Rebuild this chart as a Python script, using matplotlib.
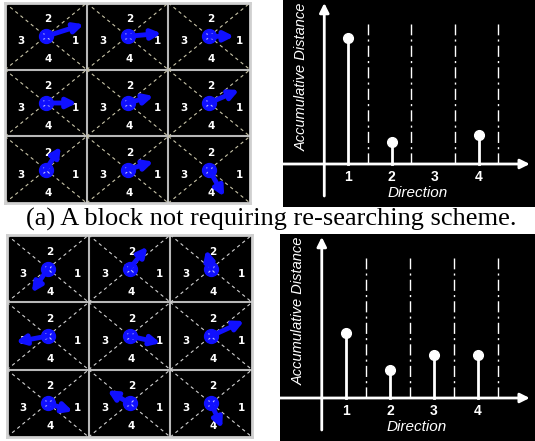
import numpy as np
import matplotlib.pyplot as plt
from matplotlib.patches import Rectangle

W, H = 535, 441

# motion vectors of the 9 sub-blocks (dx, dy in pixels, dy up), row by row
vec_a_dx = [38, 34, 25, 31, 26, 30, 15, 26, 15]
vec_a_dy = [12, 3, 0, 0, 7, 13, 23, 8, -27]
vec_b_dx = [-16, 18, -5, -32, 31, 33, 25, -22, 11]
vec_b_dy = [-24, 22, 19, -6, -7, 15, -8, 13, -25]

# accumulative distance per direction
directions = [1, 2, 3, 4]
dist_a = [126, 22, 0, 29]
dist_b = [65, 28, 43, 43]

caption_a = '(a) A block not requiring re-searching scheme.'


def px_axes(fig, x0, y0, x1, y1):
    return fig.add_axes([x0 / W, 1 - y1 / H, (x1 - x0) / W, (y1 - y0) / H])


def draw_grid(ax, vdx, vdy, diag_color):
    w = ax.get_position().width * W
    h = ax.get_position().height * H
    ax.set_xlim(0, w)
    ax.set_ylim(h, 0)
    ax.set_facecolor('black')
    ax.set_xticks([])
    ax.set_yticks([])
    for s in ax.spines.values():
        s.set_color('#d0d0d0')
        s.set_linewidth(2)
    cw, ch = w / 3, h / 3
    for k in range(1, 3):
        ax.plot([k * cw, k * cw], [0, h], color='#b8b8b8', lw=1.5)
        ax.plot([0, w], [k * ch, k * ch], color='#b8b8b8', lw=1.5)
    for i in range(9):
        r, c = divmod(i, 3)
        x0, y0 = c * cw, r * ch
        cx, cy = x0 + cw / 2, y0 + ch / 2
        ax.plot([x0, x0 + cw], [y0, y0 + ch], color=diag_color, lw=0.8, dashes=(3, 3))
        ax.plot([x0, x0 + cw], [y0 + ch, y0], color=diag_color, lw=0.8, dashes=(3, 3))
        kw = dict(color='white', fontsize=7.5, fontweight='bold', ha='center', va='center')
        ax.text(cx + 2, cy - 17, '2', **kw)
        ax.text(cx + 2, cy + 23, '4', **kw)
        ax.text(cx - 25, cy + 5, '3', **kw)
        ax.text(cx + 30, cy + 5, '1', **kw)
        ax.annotate('', xy=(cx + vdx[i], cy - vdy[i]), xytext=(cx, cy),
                    arrowprops=dict(arrowstyle='-|>', color='#1010ff', lw=3.5,
                                    mutation_scale=14, shrinkA=0, shrinkB=0))
        ax.plot(cx, cy, 'o', ms=10, color='#1010ff', mec='#1010ff')
        ax.plot(cx, cy, 'x', ms=4, color='#c0c0ff', mew=0.8)


def draw_stem(ax, vals):
    ax.set_xlim(-0.5, 5.3)
    ax.set_ylim(-43, 164)
    ax.set_facecolor('black')
    ax.set_xticks([])
    ax.set_yticks([])
    for s in ax.spines.values():
        s.set_visible(False)
    ap = dict(arrowstyle='-|>', color='white', lw=2, mutation_scale=14, shrinkA=0, shrinkB=0)
    ax.annotate('', xy=(5.18, 0), xytext=(-0.5, 0), arrowprops=ap)
    ax.annotate('', xy=(0.45, 161), xytext=(0.45, -32), arrowprops=ap)
    for d in directions:
        ax.plot([d + 0.45, d + 0.45], [0, 140], color='white', lw=1,
                dashes=(8, 3, 1.5, 3))
        ax.text(d, -13, str(d), color='white', fontsize=10, fontweight='bold',
                ha='center', va='center', family='Liberation Sans')
    for d, v in zip(directions, vals):
        if v > 0:
            ax.plot([d, d], [0, v], color='white', lw=2)
            ax.plot(d, v, 'o', ms=7, color='white')
    ax.text(2.6, -29, 'Direction', color='white', fontsize=11, style='italic',
            ha='center', va='center', family='Liberation Sans')
    ax.text(-0.08, 87, 'Accumulative Distance', color='white', fontsize=10.5,
            style='italic', rotation=90, ha='center', va='center',
            family='Liberation Sans')


fig = plt.figure(figsize=(W / 100, H / 100), dpi=100)
fig.patch.set_facecolor('white')

ax1 = px_axes(fig, 5, 3, 250, 203)
draw_grid(ax1, vec_a_dx, vec_a_dy, '#c8c4a8')
ax2 = px_axes(fig, 283, 0, 535, 207)
draw_stem(ax2, dist_a)

fig.text(271 / W, 1 - 219 / H, caption_a, fontsize=19, family='Liberation Serif',
         ha='center', va='center')

ax3 = px_axes(fig, 7, 235, 252, 437)
draw_grid(ax3, vec_b_dx, vec_b_dy, '#d0d0d0')
ax4 = px_axes(fig, 280, 234, 535, 441)
draw_stem(ax4, dist_b)

fig.savefig('out.png', dpi=100)
